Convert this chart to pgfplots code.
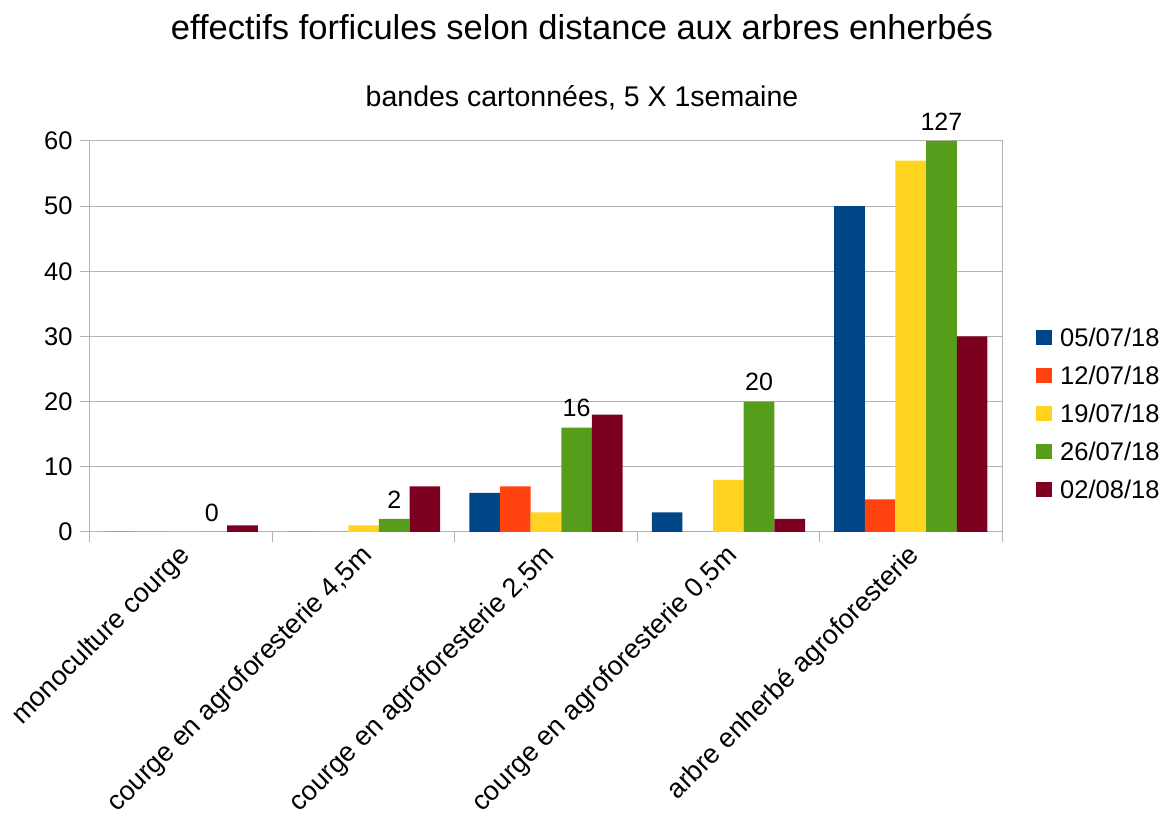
\documentclass[border=0pt]{standalone}
\usepackage{pgfplots}
\pgfplotsset{compat=1.18}
\usepackage{fontspec}
\setmainfont{Liberation Sans}
\definecolor{c1}{HTML}{004586}
\definecolor{c2}{HTML}{FF420E}
\definecolor{c3}{HTML}{FFD320}
\definecolor{c4}{HTML}{579D1C}
\definecolor{c5}{HTML}{7E0021}
\definecolor{gridc}{HTML}{B3B3B3}
\begin{document}
\begin{tikzpicture}
\useasboundingbox (0,0) rectangle (1168pt,819pt);
\node[font=\fontsize{34.5}{40}\selectfont] at (582pt,792pt) {effectifs forficules selon distance aux arbres enherbés};
\node[font=\fontsize{28.5}{34}\selectfont] at (582pt,721pt) {bandes cartonnées, 5 X 1semaine};
\begin{axis}[
  at={(90pt,287pt)}, anchor=south west,
  scale only axis, width=912pt, height=391pt,
  xmin=-0.5, xmax=4.5, ymin=0, ymax=60,
  ytick={0,10,...,60},
  xtick={-0.5,0.5,1.5,2.5,3.5,4.5},
  xticklabels={monoculture courge, courge en agroforesterie 4{,}5m, courge en agroforesterie 2{,}5m, courge en agroforesterie 0{,}5m, arbre enherbé agroforesterie, {}},
  xticklabel style={xshift=87pt, yshift=4pt, rotate=45, anchor=north east, font=\fontsize{27}{32}\selectfont},
  yticklabel style={font=\fontsize{25.5}{30}\selectfont, xshift=-4pt},
  /pgf/number format/assume math mode=true,
  tick align=outside, major tick length=10pt, tick pos=left,
  tick style={color=gridc, line width=1pt},
  ymajorgrids, grid style={color=gridc, line width=1pt},
  axis line style={color=gridc, line width=1pt},
  ybar, bar width=0.168,
  clip mode=individual,
  legend style={at={(1.0373,0.3043)}, anchor=west, draw=none, fill=none,
    font=\fontsize{25.5}{30}\selectfont, row sep=19.5pt, inner sep=0pt,
    nodes={inner sep=0pt, text height=18.5pt, text depth=0pt},
    /tikz/every odd column/.append style={column sep=8pt}},
  legend cell align=left,
  legend image code/.code={\fill[#1] (0pt,-7.5pt) rectangle (16pt,7.5pt);},
]
\addplot[fill=c1, draw=none, bar shift=-0.336] coordinates {(0,0) (1,0) (2,6) (3,3) (4,50)};
\addlegendentry{05/07/18}
\addplot[fill=c2, draw=none, bar shift=-0.168] coordinates {(0,0) (1,0) (2,7) (3,0) (4,5)};
\addlegendentry{12/07/18}
\addplot[fill=c3, draw=none, bar shift=0] coordinates {(0,0) (1,1) (2,3) (3,8) (4,57)};
\addlegendentry{19/07/18}
\addplot[fill=c4, draw=none, bar shift=0.168,
  point meta=explicit,
  nodes near coords={\pgfmathprintnumber{\pgfplotspointmeta}},
  every node near coord/.append style={font=\fontsize{25}{30}\selectfont, text=black, yshift=7pt}]
  table[meta=lab] {
x y lab
0 0 0
1 2 2
2 16 16
3 20 20
4 60 127
};
\addlegendentry{26/07/18}
\addplot[fill=c5, draw=none, bar shift=0.336] coordinates {(0,1) (1,7) (2,18) (3,2) (4,30)};
\addlegendentry{02/08/18}
\end{axis}
\end{tikzpicture}
\end{document}
